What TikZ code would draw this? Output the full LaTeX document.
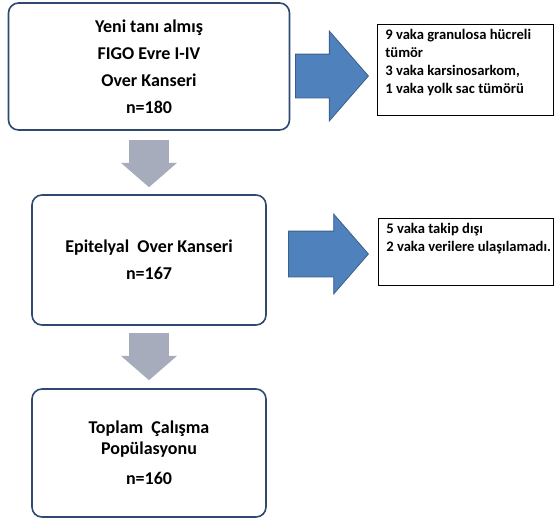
\documentclass[tikz,border=0pt]{standalone}
\usepackage{fontspec}
\setmainfont{Carlito}
\usepackage{tikz}
\usetikzlibrary{shapes.arrows,positioning}
\definecolor{boxline}{HTML}{2E4A70}
\definecolor{grayarrow}{HTML}{A6ACBB}
\definecolor{bluearrow}{HTML}{4F81BD}
\definecolor{blueline}{HTML}{3A5F8C}

\begin{document}
\begin{tikzpicture}[x=1pt,y=1pt]
\tikzstyle{stage}=[rectangle, rounded corners=10pt, draw=boxline, line width=1.6pt, fill=white, align=center, font=\bfseries\fontsize{18}{27}\selectfont]
\tikzstyle{note}=[rectangle, draw=black, line width=0.7pt, anchor=north west, inner xsep=8pt, inner ysep=5pt, font=\bfseries\fontsize{14.6}{18}\selectfont]
\tikzstyle{down}=[single arrow, fill=grayarrow, draw=none, rotate=-90, anchor=tail, inner sep=0pt, inner ysep=17pt, minimum height=47pt, minimum width=56pt, single arrow tip angle=98]
\tikzstyle{side}=[single arrow, fill=bluearrow, draw=blueline, line width=0.8pt, anchor=tail, inner sep=0pt, single arrow tip angle=98]
\useasboundingbox (0,0) rectangle (555,-520);
\node[stage, minimum width=281pt, minimum height=127pt] (all) at (149,-66.5) {Yeni tanı almış\\FIGO Evre I-IV\\Over Kanseri\\n=180};
\node[stage, minimum width=234pt, minimum height=130pt] (epi) at (149,-260) {Epitelyal\ \ Over Kanseri\\n=167};
\node[stage, minimum width=234pt, minimum height=128pt, font=\bfseries\fontsize{18}{21}\selectfont] (pop) at (149,-453) {Toplam\ \ Çalışma\\Popülasyonu\\[9pt]n=160};
\node[note] (excl1) at (377,-24) {\parbox[t][81pt][t]{160pt}{\raggedright 9 vaka granulosa hücreli\\tümör\\3 vaka karsinosarkom,\\1 vaka yolk sac tümörü}};
\node[note] (excl2) at (378,-218) {\parbox[t][57pt][t]{159pt}{\raggedright 5 vaka takip dışı\\\mbox{2 vaka verilere ulaşılamadı.}}};
\node[down] (d1) at (149,-140) {};
\node[down] (d2) at (149,-333) {};
\node[side, inner ysep=21.5pt, minimum height=73pt, single arrow head extend=23pt] (s1) at (295,-76) {};
\node[side, inner ysep=22.5pt, minimum height=80pt, single arrow head extend=17pt] (s2) at (288,-254) {};
\end{tikzpicture}
\end{document}
